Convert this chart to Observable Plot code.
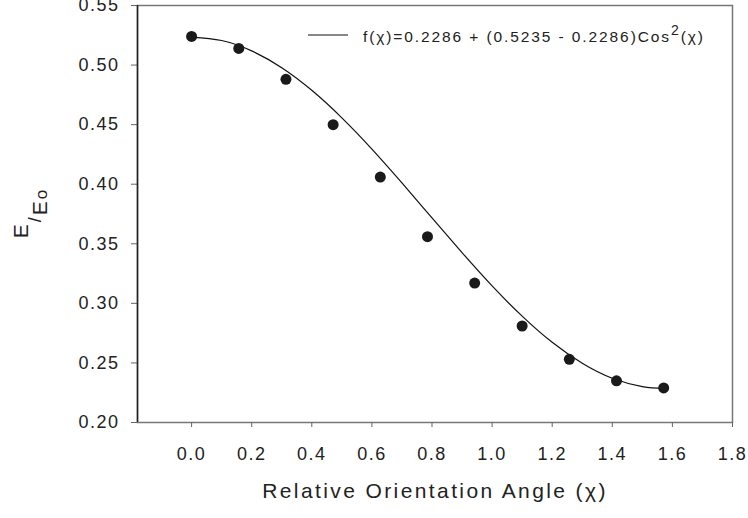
<!DOCTYPE html>
<html><head><meta charset="utf-8">
<script src="https://cdn.jsdelivr.net/npm/d3@7"></script>
<script src="https://cdn.jsdelivr.net/npm/@observablehq/plot@0.6"></script>
<style>
body{margin:0;background:#fff}
svg{font-family:"Liberation Sans",Arial,sans-serif}
</style>
</head><body><div id="chart"></div>
<script>
// measured points
const angle = [0, 0.157, 0.314, 0.471, 0.628, 0.785, 0.942, 1.100, 1.257, 1.414, 1.571];
const ratio = [0.524, 0.514, 0.488, 0.450, 0.406, 0.356, 0.317, 0.281, 0.253, 0.235, 0.229];
// fitted curve
const fitAngle = [0, 0.1, 0.2, 0.3, 0.4, 0.5, 0.6, 0.7, 0.8, 0.9, 1.0, 1.1, 1.2, 1.3, 1.4, 1.5, 1.571];
const fitRatio = [0.5235, 0.5206, 0.5119, 0.4978, 0.4788, 0.4557, 0.4295, 0.4011, 0.3717, 0.3426, 0.3147, 0.2893, 0.2673, 0.2497, 0.2371, 0.2301, 0.2286];
const xTicks = [0, 0.2, 0.4, 0.6, 0.8, 1.0, 1.2, 1.4, 1.6, 1.8];
const yTicks = [0.20, 0.25, 0.30, 0.35, 0.40, 0.45, 0.50, 0.55];
const xTitle = "Relative Orientation Angle (χ)";
const legendText = ["f(χ)=0.2286 + (0.5235 - 0.2286)Cos", "2", "(χ)"];

const points = angle.map((a, i) => ({a, r: ratio[i]}));
const fit = fitAngle.map((a, i) => ({a, r: fitRatio[i]}));

const svg = Plot.plot({
  width: 748, height: 518,
  marginLeft: 137, marginRight: 16, marginTop: 5, marginBottom: 96,
  x: {domain: [-0.18, 1.8]},
  y: {domain: [0.2, 0.55]},
  marks: [
    Plot.frame({stroke: "#777", strokeWidth: 1.5}),
    Plot.axisX({ticks: xTicks, tickFormat: d3.format(".1f"), tickSize: 5, tickPadding: 20, fontSize: 18, label: null, stroke: "#666", color: "#222"}),
    Plot.axisY({ticks: yTicks, tickFormat: d3.format(".2f"), tickSize: 6, tickPadding: 12, fontSize: 18, label: null, stroke: "#666", color: "#222"}),
    Plot.ruleX([-0.18], {stroke: "#222", strokeWidth: 1.5}),
    Plot.line(fit, {x: "a", y: "r", curve: "natural", stroke: "#111", strokeWidth: 1.2}),
    Plot.dot(points, {x: "a", y: "r", r: 5.5, fill: "#1a1a1a", stroke: null}),
    Plot.text([xTitle], {frameAnchor: "bottom", dy: 75, fontSize: 21, fill: "#222"})
  ]
});

const s = d3.select(svg);
s.selectAll("g[aria-label='x-axis tick label'] text, g[aria-label='y-axis tick label'] text").attr("letter-spacing", "1.5px");
s.selectAll("g[aria-label='text'] text").attr("letter-spacing", "2.4px");

// y-axis label E/Eo
const yl = s.append("text")
  .attr("transform", "translate(28,213) rotate(-90)")
  .attr("text-anchor", "middle")
  .attr("fill", "#222")
  .attr("font-size", 21)
  .attr("letter-spacing", "2px");
yl.append("tspan").text("E");
yl.append("tspan").attr("dy", 13).attr("font-size", 18).text("/");
yl.append("tspan").attr("dy", 6).text("E");
yl.append("tspan").attr("font-size", 17).text("o");

// legend
const lg = s.append("g");
lg.append("line").attr("x1", 308).attr("x2", 348).attr("y1", 35).attr("y2", 35).attr("stroke", "#111").attr("stroke-width", 1.2);
const lt = lg.append("text").attr("x", 363).attr("y", 42).attr("text-anchor", "start")
  .attr("font-size", 15.5).attr("fill", "#222").attr("letter-spacing", "1.9px");
lt.append("tspan").text(legendText[0]);
lt.append("tspan").attr("dy", -7).attr("font-size", 14).text(legendText[1]);
lt.append("tspan").attr("dy", 7).text(legendText[2]);

document.getElementById("chart").append(svg);
</script>
</body></html>
